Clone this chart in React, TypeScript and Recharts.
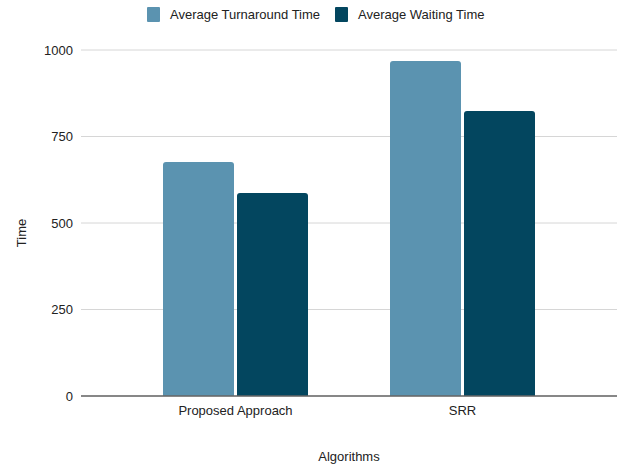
import React from 'react';
import { BarChart, Bar, XAxis, YAxis, CartesianGrid, Label } from 'recharts';

const categories = ['Proposed Approach', 'SRR'];
const turnaround = [676, 968];
const waiting = [587, 824];
const yTicks = [0, 250, 500, 750, 1000];
const seriesNames = ['Average Turnaround Time', 'Average Waiting Time'];
const seriesColors = ['#5b93b0', '#03465f'];

const data = categories.map((c, i) => ({ name: c, tat: turnaround[i], wt: waiting[i] }));

const FONT = "Arial, 'Liberation Sans', sans-serif";
const FS = 13;

const TimeLabel = (props: any) => {
  const vb = props.viewBox || { x: 0, y: 0, width: 0, height: 0 };
  const x = vb.x + 26;
  const y = vb.y + vb.height / 2 + 10;
  return (
    <text x={x} y={y} transform={`rotate(-90, ${x}, ${y})`} textAnchor="middle" fontSize={FS} fill="#222" fontFamily={FONT}>
      {props.value}
    </text>
  );
};

export default function App() {
  return (
    <div style={{ position: 'absolute', left: 0, top: 0, width: 624, height: 470, background: '#fff', fontFamily: FONT }}>
      <div style={{ position: 'absolute', top: 0, left: 0, width: 624, height: 30 }}>
        {seriesNames.map((n, i) => (
          <div key={n} style={{ position: 'absolute', top: 6, left: i === 0 ? 147 : 335, display: 'flex', alignItems: 'center', height: 17 }}>
            <div style={{ width: 13, height: 15, background: seriesColors[i], borderRadius: 1, marginRight: 10 }} />
            <span style={{ fontSize: FS, color: '#222' }}>{n}</span>
          </div>
        ))}
      </div>
      <BarChart
        width={624}
        height={470}
        data={data}
        margin={{ top: 50, right: 7, bottom: 44, left: 0 }}
        barCategoryGap={41}
        barGap={3}
        style={{ position: 'absolute', top: 0, left: 0 }}
      >
        <CartesianGrid vertical={false} stroke="#d6d6d6" strokeWidth={1} />
        <XAxis
          dataKey="name"
          height={30}
          padding={{ left: 41, right: 41 }}
          axisLine={{ stroke: '#666', strokeWidth: 1.5 }}
          tickLine={false}
          tickMargin={4}
          tick={{ fontSize: FS, fill: '#222', fontFamily: FONT }}
        >
          <Label value="Algorithms" position="bottom" offset={26} style={{ fontSize: FS, fill: '#222', fontFamily: FONT }} />
        </XAxis>
        <YAxis
          width={81}
          domain={[0, 1000]}
          ticks={yTicks}
          axisLine={false}
          tickLine={false}
          tick={{ fontSize: FS, fill: '#222', fontFamily: FONT }}
        >
          <Label value="Time" content={<TimeLabel value="Time" />} />
        </YAxis>
        <Bar dataKey="tat" name={seriesNames[0]} fill={seriesColors[0]} radius={[3, 3, 0, 0]} isAnimationActive={false} />
        <Bar dataKey="wt" name={seriesNames[1]} fill={seriesColors[1]} radius={[3, 3, 0, 0]} isAnimationActive={false} />
      </BarChart>
    </div>
  );
}
